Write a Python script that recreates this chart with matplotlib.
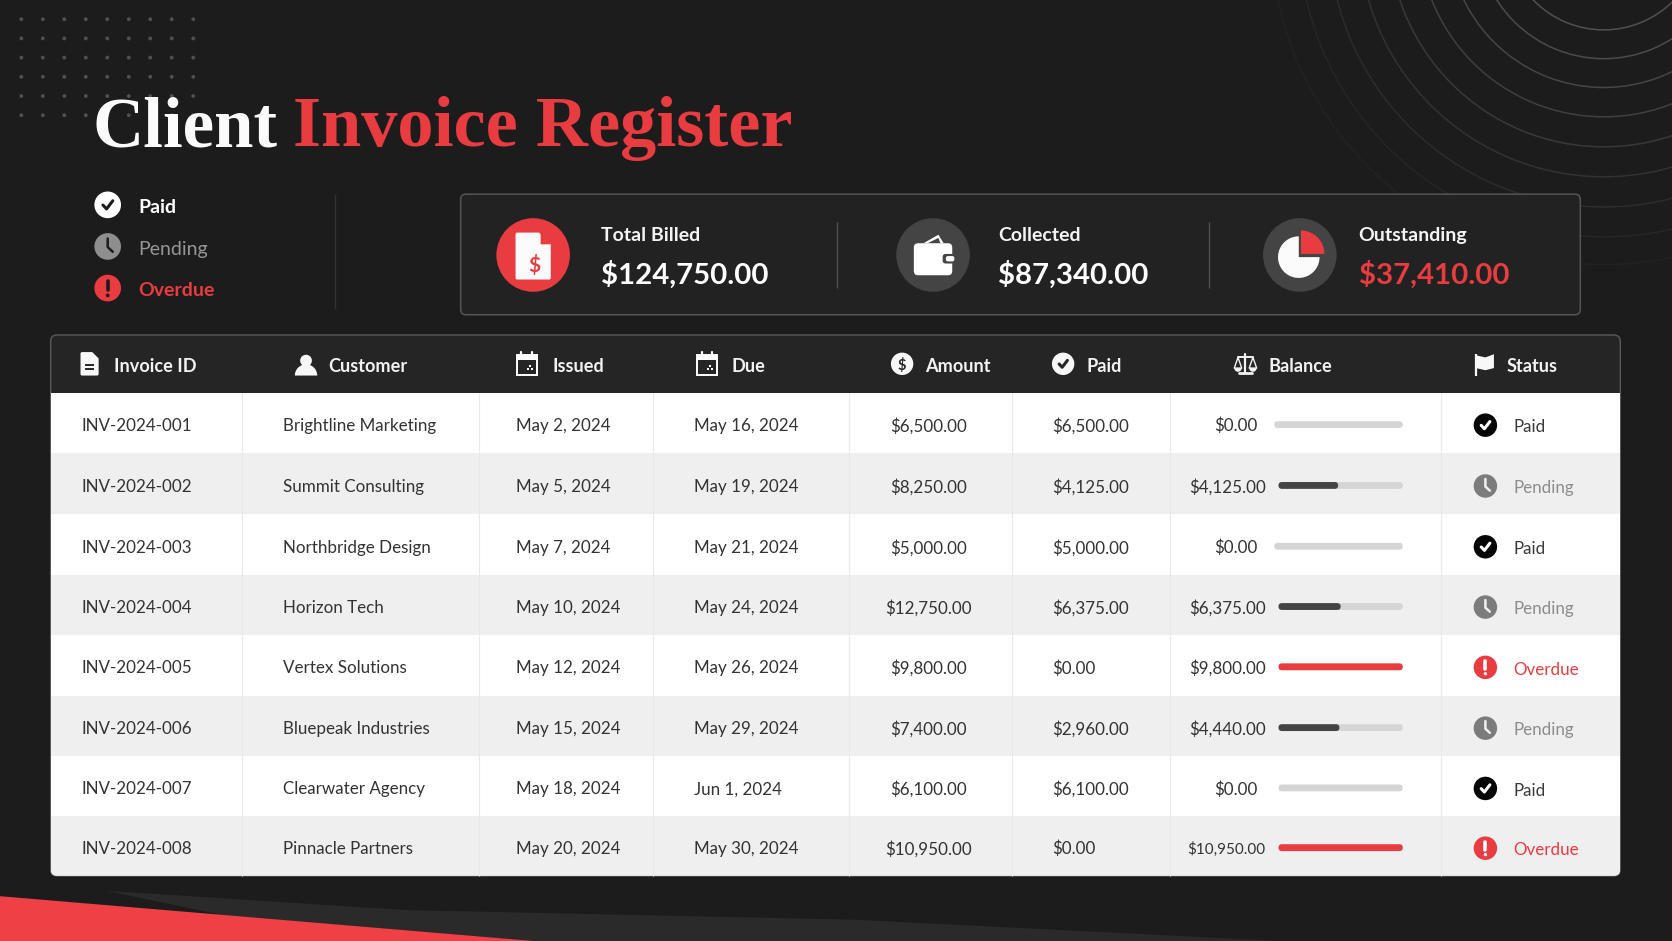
import matplotlib
matplotlib.use("Agg")
import matplotlib.pyplot as plt
from matplotlib.patches import Circle, FancyBboxPatch, Polygon, Rectangle, Wedge, Arc
from matplotlib.lines import Line2D
import numpy as np

invoice_ids = ["INV-2024-001","INV-2024-002","INV-2024-003","INV-2024-004","INV-2024-005","INV-2024-006","INV-2024-007","INV-2024-008"]
customers = ["Brightline Marketing","Summit Consulting","Northbridge Design","Horizon Tech","Vertex Solutions","Bluepeak Industries","Clearwater Agency","Pinnacle Partners"]
issued = ["May 2, 2024","May 5, 2024","May 7, 2024","May 10, 2024","May 12, 2024","May 15, 2024","May 18, 2024","May 20, 2024"]
due = ["May 16, 2024","May 19, 2024","May 21, 2024","May 24, 2024","May 26, 2024","May 29, 2024","Jun 1, 2024","May 30, 2024"]
amounts = [6500, 8250, 5000, 12750, 9800, 7400, 6100, 10950]
paid = [6500, 4125, 5000, 6375, 0, 2960, 6100, 0]
balances = [0, 4125, 0, 6375, 9800, 4440, 0, 10950]
bar_fill = [0, 0.48, 0, 0.50, 1, 0.49, 0, 1]
statuses = ["Paid","Pending","Paid","Pending","Overdue","Pending","Paid","Overdue"]
headers = ["Invoice ID","Customer","Issued","Due","Amount","Paid","Balance","Status"]
kpi_labels = ["Total Billed","Collected","Outstanding"]
kpi_values = ["$124,750.00","$87,340.00","$37,410.00"]
legend_labels = ["Paid","Pending","Overdue"]

BG="#1c1c1c"; RED="#e93c40"; WHITE="#ffffff"
FONT="Lato"
fig=plt.figure(figsize=(16.72,9.41),dpi=100,facecolor=BG)
ax=fig.add_axes([0,0,1,1]); ax.set_xlim(0,1568); ax.set_ylim(882,0); ax.axis("off")
ax.set_facecolor(BG)
_z=[1]
def add(a):
    _z[0]+=1; a.set_zorder(_z[0]); ax.add_artist(a); return a
def circ(x,y,r,c): return add(Circle((x,y),r,fc=c,ec="none"))
def line(xs,ys,c,lw,cap="round"):
    return add(Line2D(xs,ys,color=c,lw=lw,solid_capstyle=cap,solid_joinstyle="round"))
def poly(pts,c): return add(Polygon(pts,closed=True,fc=c,ec="none"))
def rrect(x,y,w,h,r,fc,ec="none",lw=0):
    return add(FancyBboxPatch((x+r,y+r),w-2*r,h-2*r,boxstyle=f"round,pad={r},rounding_size={r}",fc=fc,ec=ec,lw=lw))
def txt(x,y,s,size,c,ha="left",weight="normal",family=FONT):
    t=ax.text(x,y,s,fontsize=size,color=c,ha=ha,va="center_baseline",fontweight=weight,family=family)
    _z[0]+=1; t.set_zorder(_z[0]); return t

# decorative dots
for yy in [18,36,54,72,90,108]:
    for xx in np.arange(9)*20.15+20:
        circ(xx,yy,1.8,"#505050")
# concentric arcs
arc_r=[92,119,146,173.5,201.6,229.7,258,286,312]
arc_c=["#505050","#4b4b4b","#464646","#404040","#393939","#323232","#2c2c2c","#262626","#222222"]
for r,c in zip(arc_r,arc_c):
    add(Arc((1504,-64),2*r,2*r,color=c,lw=1.1))
# bottom shapes
poly([(100,835),(380,853),(800,862),(1200,882),(500,882),(210,858)],"#2a2a2a")
poly([(0,840),(500,882),(0,882)],"#ef4145")

# title
txt(87,113.5,"Client",51,"#fbfbfb",weight="bold",family="Liberation Serif")
txt(275,113.5,"Invoice Register",52,RED,weight="bold",family="Liberation Serif")

# icons
def check(x,y,s,c):
    line([x-.42*s,x-.1*s,x+.45*s],[y+.02*s,y+.36*s,y-.36*s],c,2.2)
def i_check(x,y,r,bg,fg):
    circ(x,y,r,bg); check(x,y,r*.85,fg)
def i_clock(x,y,r,bg,fg):
    circ(x,y,r,bg); line([x,x,x+.38*r],[y-.6*r,y+.05*r,y+.4*r],fg,1.8)
def i_excl(x,y,r,bg,fg):
    circ(x,y,r,bg); line([x,x],[y-.55*r,y+.12*r],fg,2.6); circ(x,y+.55*r,.14*r,fg)
def i_status(s,x,y,r,dark_bg):
    if s=="Paid":
        i_check(x,y,r,WHITE if dark_bg else "#060606",BG if dark_bg else WHITE)
    elif s=="Pending":
        i_clock(x,y,r,"#8e8e8e" if dark_bg else "#7c7c7c",BG if dark_bg else "#f0f0f0")
    else:
        i_excl(x,y,r,RED,BG if dark_bg else WHITE)
def i_doc(x,y,w,h,c,fold):
    l,r,t,b=x-w/2,x+w/2,y-h/2,y+h/2
    poly([(l+1,t),(r-fold,t),(r,t+fold),(r,b-1),(r-1,b),(l+1,b),(l,b-1),(l,t+1)],c)
    return l,r,t,b
def i_cal(x,y):
    w,h=19,19
    add(Rectangle((x-w/2,y-h/2+1),w,h,fc="none",ec=WHITE,lw=1.4))
    add(Rectangle((x-w/2,y-h/2+1),w,4.5,fc=WHITE,ec="none"))
    line([x-5,x-5],[y-11,y-7],WHITE,1.6); line([x+5,x+5],[y-11,y-7],WHITE,1.6)
    for dx,dy in [(3,2),(1,5),(5,5)]:
        add(Rectangle((x+dx-1,y+dy-1),2,2,fc=WHITE,ec="none"))

# legend
for lab,yy,col,w in zip(legend_labels,[192,231,270],[WHITE,"#969696",RED],["bold","normal","bold"]):
    i_status(lab,101,yy,12.5,True)
    txt(130,yy+1,lab,14,col,weight=w)
line([314,314],[182,290],"#333333",1,"butt")

# KPI card
rrect(432,182,1050,113,5,"#222222","#555555",1.1)
kpi_x=[564,936,1274]; kpi_cols=[WHITE,WHITE,RED]; kpi_cx=[500,875,1219]; kpi_bg=[RED,"#444444","#444444"]
for lab,val,x,c,cx,bg in zip(kpi_labels,kpi_values,kpi_x,kpi_cols,kpi_cx,kpi_bg):
    circ(cx,239,34.5,bg)
    txt(x,219,lab,14,"#f4f4f4",weight="bold")
    txt(x,255,val,21.2,c,weight="bold")
for xx in [785,1134]:
    line([xx,xx],[208,270],"#505050",1,"butt")
i_doc(500,240,33,44,"#fbfbfb",11)
poly([(507,218),(517,229),(507,229)],RED)
txt(501,247,"$",15,RED,ha="center",weight="bold")
# wallet
poly([(866,228),(880,220),(885,228)],WHITE); poly([(870,228),(880,223),(882,228)],"#444444")
rrect(857,228,36,30,4,WHITE)
rrect(884,238,11,9,3,"#444444")
rrect(887,240,8,5,2,WHITE)
# pie
add(Wedge((1218,241),19.5,0,270,fc="#fbfbfb",ec="none"))
add(Wedge((1220,238),22,270,360,fc=RED,ec="none"))

# table
edges=[368,425,482,539,595,652,709,765,821]
col_x=[227,449,612,796,949,1097,1351]
L,R=47.5,1519.5
clip=FancyBboxPatch((L+6,314+6),R-L-12,821-314-12,boxstyle="round,pad=6,rounding_size=6",transform=ax.transData,fc="none",ec="none")
ax.add_patch(clip)
rrect(L,314,R-L,507,6,"#252525","#5a5a5a",1.0)
for i in range(8):
    rect=add(Rectangle((L,edges[i]),R-L,edges[i+1]-edges[i],fc=WHITE if i%2==0 else "#efefef",ec="none"))
    rect.set_clip_path(clip)
for xx in col_x:
    line([xx,xx],[368,821],"#e9e9e9",0.8,"butt")

# header
hdr_x=[107,308,518,686,868,1019,1190,1413]
for h,x in zip(headers,hdr_x):
    txt(x,342,h,13.1,"#f2f2f2",weight="bold")
i_doc(84,341,17,22,"#f8f8f8",6)
line([80,88],[342,342],"#252525",1.4,"butt"); line([80,88],[346,346],"#252525",1.4,"butt")
circ(287,338,5.5,"#f8f8f8")
add(Wedge((287,352),10.5,180,360,fc="#f8f8f8",ec="none"))
i_cal(494,341); i_cal(663,341)
circ(846,341,10.5,"#f8f8f8"); txt(846,341,"$",10.5,"#252525",ha="center",weight="bold")
i_check(997,341,10.5,"#f8f8f8","#252525")
# scales
sc="#f2f2f2"; x=1168
line([x,x],[332,350],sc,1.6); line([x-6,x+6],[350,350],sc,2); line([x-7,x+7],[335,335],sc,1.4)
line([x-7,x-10.5,x-3.5,x-7],[335,345,345,335],sc,1); line([x+7,x+3.5,x+10.5,x+7],[335,345,345,335],sc,1)
add(Wedge((x-7,345),3.5,0,180,fc=sc,ec="none")); add(Wedge((x+7,345),3.5,0,180,fc=sc,ec="none"))
# flag
line([1384,1384],[332,352],"#f8f8f8",1.6,"butt")
poly([(1384,333),(1393,335),(1401,332),(1401,345),(1393,347),(1384,345)],"#f8f8f8")

# rows
def money(v): return f"${v:,.2f}"
txtcol="#333333"; body=12.25
bal_right=[1179,1187,1179,1187,1187,1187,1179,1187]
bar_left=[1195,1199,1195,1199,1199,1199,1199,1199]
st_col={"Paid":"#3a3a3a","Pending":"#8c8c8c","Overdue":RED}
for i in range(8):
    y=(edges[i]+edges[i+1])/2+1.5
    txt(76,y,invoice_ids[i],body,txtcol)
    txt(265,y,customers[i],body,txtcol)
    txt(484,y,issued[i],body,txtcol)
    txt(651,y,due[i],body,txtcol)
    txt(871,y,money(amounts[i]),body,txtcol,ha="center")
    txt(987,y,money(paid[i]),body,txtcol)
    txt(bal_right[i],y,money(balances[i]),body if balances[i]<10000 else 11,txtcol,ha="right")
    x0=bar_left[i]; W=1315.5-x0
    rrect(x0,y-3.2,W,6.4,3.2,"#d5d5d5")
    if bar_fill[i]>0:
        rrect(x0,y-3.2,W*bar_fill[i],6.4,3.2,RED if statuses[i]=="Overdue" else "#444444")
    i_status(statuses[i],1393,y+0.5,11,False)
    txt(1419,y+1.2,statuses[i],12.25,st_col[statuses[i]])

fig.savefig("out.png",dpi=100,facecolor=BG)
